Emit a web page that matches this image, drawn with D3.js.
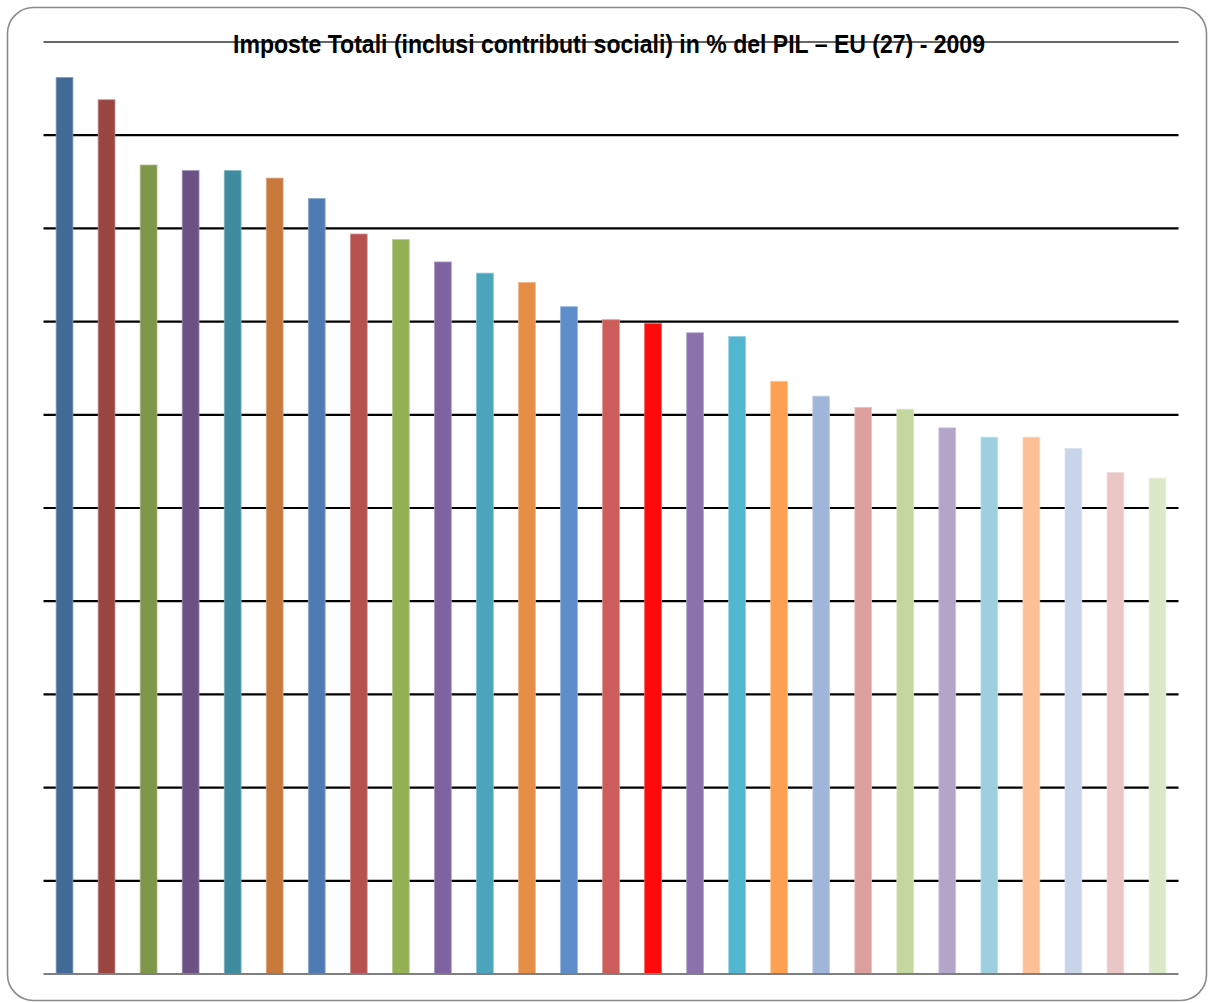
<!DOCTYPE html>
<html>
<head>
<meta charset="utf-8">
<script src="https://cdn.jsdelivr.net/npm/d3@7"></script>
<style>
  html, body { margin: 0; padding: 0; background: #fff; }
  svg { display: block; }
</style>
</head>
<body>
<div id="chart"></div>
<script>
// Total tax revenue (incl. social contributions) as % of GDP, EU-27, 2009
const categories = ["DK","SE","BE","IT","FI","AT","FR","HU","DE","SI","NL","LU","CY","CZ","UE27","EE","PT","PL","ES","GR","MT","UK","BG","LT","IE","RO","SK"];
const values = [48.1, 46.9, 43.4, 43.1, 43.1, 42.7, 41.6, 39.7, 39.4, 38.2, 37.6, 37.1, 35.8, 35.1, 34.9, 34.4, 34.2, 31.8, 31.0, 30.4, 30.3, 29.3, 28.8, 28.8, 28.2, 26.9, 26.6];
const colors = ["#416a97","#9b4543","#7f9749","#6b5184","#3f8ca1","#c8793b","#4f7bb5","#b6514f","#93b055","#7e63a0","#4aa5bd","#e68d46","#5d8dcb","#cc5d5b","#ff0a0a","#8c72ad","#52b6d0","#fda052","#a1b5db","#dc9f9e","#c4d79e","#b3a5ca","#9ecfde","#fdbf95","#c7d4ea","#ebc6c6","#dce9c8"];
const gridTicks = [0, 5, 10, 15, 20, 25, 30, 35, 40, 45, 50];
const title = "Imposte Totali (inclusi contributi sociali) in % del PIL \u2013 EU (27) - 2009";

const W = 1208, H = 1003;
const plot = { left: 43.5, right: 1178.5, top: 42, bottom: 974 };

const svg = d3.select("#chart").append("svg")
  .attr("width", W).attr("height", H);

// chart area frame
svg.append("rect")
  .attr("x", 7.5).attr("y", 7.5)
  .attr("width", 1199).attr("height", 993)
  .attr("rx", 26).attr("ry", 26)
  .attr("fill", "#fff")
  .attr("stroke", "#8a8a8a").attr("stroke-width", 1.6);

const x = d3.scaleBand()
  .domain(categories)
  .range([plot.left, plot.right])
  .paddingInner(0.6)
  .paddingOuter(0.3);

const y = d3.scaleLinear()
  .domain([0, 50])
  .range([plot.bottom, plot.top]);

// horizontal gridlines
svg.append("g")
  .selectAll("line")
  .data(gridTicks.filter(t => t > 0))
  .join("line")
  .attr("x1", plot.left).attr("x2", plot.right)
  .attr("y1", d => y(d)).attr("y2", d => y(d))
  .attr("stroke", d => d === 50 ? "#333" : "#000")
  .attr("stroke-width", d => d === 50 ? 1.4 : 2.2);

// bars
svg.append("g")
  .selectAll("rect")
  .data(values)
  .join("rect")
  .attr("x", (d, i) => x(categories[i]))
  .attr("width", x.bandwidth())
  .attr("y", d => y(d))
  .attr("height", d => y(0) - y(d))
  .attr("fill", (d, i) => colors[i])
  .attr("stroke", (d, i) => d3.interpolateRgb(colors[i], "#fff")(0.35))
  .attr("stroke-width", 0.8);

// category axis line
svg.append("line")
  .attr("x1", plot.left).attr("x2", plot.right)
  .attr("y1", y(0)).attr("y2", y(0))
  .attr("stroke", "#7f7f7f").attr("stroke-width", 2.2);

// title
svg.append("text")
  .attr("x", 609).attr("y", 53)
  .attr("text-anchor", "middle")
  .attr("font-family", "'Liberation Sans', Arial, sans-serif")
  .attr("font-weight", "bold")
  .attr("font-size", 25)
  .attr("textLength", 752)
  .attr("lengthAdjust", "spacingAndGlyphs")
  .attr("fill", "#000")
  .text(title);
</script>
</body>
</html>
